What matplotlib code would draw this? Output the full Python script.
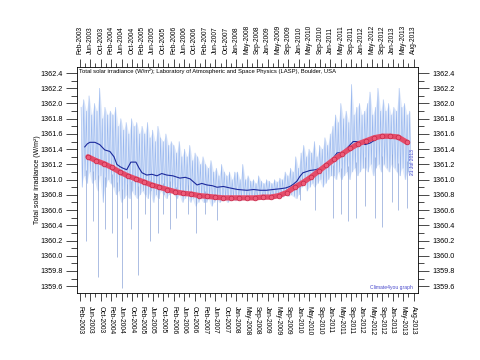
import numpy as np
import matplotlib
matplotlib.use('Agg')
import matplotlib.pyplot as plt
from matplotlib.ticker import MultipleLocator

plt.rcParams['font.family'] = ['Liberation Sans', 'DejaVu Sans']

# daily TSI band, read as monthly highs and lows (Feb 2003 .. Jun 2013)
tsi_high = [
    1361.95, 1362.05, 1361.90, 1362.10, 1361.85, 1362.00, 1361.90, 1362.20, 1361.80, 1361.95, 1361.85,  # 2003
    1361.90, 1361.85, 1361.95, 1361.70, 1361.80, 1361.65, 1361.75, 1361.60, 1361.80, 1361.70, 1361.75, 1361.60,
    1361.70, 1361.60, 1361.75, 1361.55, 1361.65, 1361.50, 1361.70, 1361.55, 1361.50, 1361.60, 1361.45, 1361.50,
    1361.45, 1361.35, 1361.50, 1361.30, 1361.40, 1361.30, 1361.45, 1361.25, 1361.35, 1361.30, 1361.20, 1361.30,
    1361.20, 1361.15, 1361.25, 1361.10, 1361.15, 1361.05, 1361.20, 1361.10, 1361.05, 1361.10, 1361.00, 1361.10,
    1361.10, 1361.00, 1361.20, 1361.00, 1361.05, 1360.98, 1361.00, 1360.95, 1361.05, 1360.98, 1360.95, 1361.00,
    1360.98, 1360.95, 1361.00, 1360.97, 1361.02, 1361.00, 1361.10, 1361.05, 1361.15, 1361.10, 1361.30, 1361.15,
    1361.35, 1361.45, 1361.30, 1361.40, 1361.35, 1361.50, 1361.30, 1361.45, 1361.40, 1361.55, 1361.45, 1361.60,
    1361.70, 1361.85, 1361.75, 1362.00, 1361.80, 1361.90, 1361.75, 1362.25, 1361.85, 1361.95, 1362.00, 1361.85,
    1361.90, 1362.00, 1362.15, 1361.85, 1361.95, 1362.20, 1361.90, 1362.05, 1361.90, 1362.00, 1361.85, 1361.95,
    1361.90, 1362.20, 1361.95, 1362.00, 1361.85, 1361.90,  # 2013
]
tsi_low = [
    1360.90, 1361.05, 1360.95, 1361.10, 1360.95, 1361.00, 1360.85, 1361.05, 1360.70, 1360.90, 1361.00,  # 2003
    1360.95, 1360.90, 1360.80, 1360.85, 1360.70, 1360.75, 1360.80, 1360.75, 1360.85, 1360.80, 1360.75, 1360.80,
    1360.85, 1360.80, 1360.75, 1360.85, 1360.70, 1360.80, 1360.75, 1360.85, 1360.80, 1360.75, 1360.80, 1360.85,
    1360.80, 1360.75, 1360.80, 1360.70, 1360.75, 1360.80, 1360.70, 1360.75, 1360.65, 1360.70, 1360.75, 1360.70,
    1360.70, 1360.75, 1360.65, 1360.70, 1360.75, 1360.70, 1360.72, 1360.75, 1360.70, 1360.72, 1360.75, 1360.72,
    1360.75, 1360.72, 1360.76, 1360.74, 1360.73, 1360.76, 1360.75, 1360.74, 1360.76, 1360.75, 1360.77, 1360.75,
    1360.77, 1360.76, 1360.78, 1360.77, 1360.78, 1360.77, 1360.80, 1360.78, 1360.80, 1360.78, 1360.75, 1360.80,
    1360.90, 1360.95, 1360.85, 1360.90, 1360.95, 1360.90, 1360.95, 1361.00, 1360.90, 1360.95, 1361.00, 1361.05,
    1361.05, 1361.00, 1361.10, 1361.00, 1361.05, 1361.10, 1361.00, 1361.10, 1361.15, 1361.05, 1361.10, 1361.15,
    1361.15, 1361.10, 1361.20, 1361.05, 1361.15, 1361.20, 1361.10, 1361.20, 1361.15, 1361.10, 1361.20, 1361.15,
    1361.10, 1361.05, 1361.15, 1361.00, 1361.10, 1361.05,  # 2013
]

# sunspot dips below the band
dip_year = [2003.27, 2003.49, 2003.65, 2003.87, 2004.09, 2004.25, 2004.41, 2004.56, 2004.69, 2004.91,
            2005.13, 2005.29, 2005.54, 2005.70, 2005.92, 2006.11, 2006.48, 2006.73, 2007.02, 2007.40,
            2010.01, 2010.48, 2011.05, 2011.30, 2011.52, 2011.77, 2012.05, 2012.37, 2012.59, 2012.90,
            2013.09, 2013.37]
dip_min = [1360.20, 1360.45, 1359.72, 1360.35, 1360.30, 1359.98, 1359.58, 1360.50, 1360.35, 1359.75,
           1360.55, 1360.20, 1360.30, 1360.55, 1360.35, 1360.50, 1360.55, 1360.30, 1360.55, 1360.47,
           1360.73, 1360.60, 1360.50, 1360.55, 1360.45, 1360.50, 1360.65, 1360.50, 1360.38, 1360.70,
           1360.60, 1360.63]

# running mean (dark blue)
mean_year = [2003.24, 2003.32, 2003.40, 2003.56, 2003.71, 2003.87, 2004.03, 2004.16, 2004.25, 2004.35,
             2004.44, 2004.56, 2004.69, 2004.85, 2004.95, 2005.04, 2005.19, 2005.35, 2005.51, 2005.66,
             2005.82, 2006.01, 2006.23, 2006.40, 2006.55, 2006.66, 2006.77, 2006.92, 2007.08, 2007.25,
             2007.40, 2007.60, 2007.81, 2008.05, 2008.34, 2008.55, 2008.75, 2008.95, 2009.16, 2009.38,
             2009.55, 2009.69, 2009.80, 2009.91, 2010.00, 2010.10, 2010.32, 2010.50, 2010.64, 2010.86,
             2011.00, 2011.17, 2011.36, 2011.50, 2011.68, 2011.90, 2012.05, 2012.21, 2012.40, 2012.55,
             2012.70, 2012.85, 2013.00, 2013.15, 2013.31]
mean_tsi = [1361.43, 1361.47, 1361.49, 1361.49, 1361.46, 1361.39, 1361.37, 1361.30, 1361.20, 1361.17,
            1361.15, 1361.13, 1361.23, 1361.23, 1361.15, 1361.09, 1361.06, 1361.07, 1361.05, 1361.08,
            1361.06, 1361.05, 1361.02, 1361.03, 1361.01, 1360.97, 1360.93, 1360.95, 1360.93, 1360.92,
            1360.90, 1360.91, 1360.89, 1360.87, 1360.86, 1360.87, 1360.86, 1360.86, 1360.87, 1360.88,
            1360.89, 1360.91, 1360.94, 1360.98, 1361.04, 1361.09, 1361.12, 1361.13, 1361.15, 1361.19,
            1361.25, 1361.35, 1361.36, 1361.42, 1361.50, 1361.50, 1361.46, 1361.48, 1361.53, 1361.55,
            1361.58, 1361.56, 1361.55, 1361.53, 1361.50]

# long smooth (red)
smooth_year = [2003.34, 2003.59, 2003.84, 2004.09, 2004.34, 2004.59, 2004.84, 2005.09, 2005.34, 2005.59,
               2005.84, 2006.09, 2006.34, 2006.59, 2006.84, 2007.09, 2007.34, 2007.59, 2007.84, 2008.09,
               2008.34, 2008.59, 2008.84, 2009.09, 2009.34, 2009.59, 2009.84, 2010.09, 2010.34, 2010.59,
               2010.84, 2011.09, 2011.34, 2011.59, 2011.84, 2012.09, 2012.34, 2012.59, 2012.84, 2013.09,
               2013.37]
smooth_tsi = [1361.30, 1361.25, 1361.21, 1361.16, 1361.10, 1361.05, 1361.01, 1360.97, 1360.93, 1360.90,
              1360.87, 1360.84, 1360.82, 1360.81, 1360.79, 1360.78, 1360.77, 1360.76, 1360.76, 1360.76,
              1360.76, 1360.76, 1360.77, 1360.77, 1360.79, 1360.83, 1360.90, 1360.96, 1361.03, 1361.11,
              1361.19, 1361.27, 1361.34, 1361.41, 1361.47, 1361.51, 1361.55, 1361.57, 1361.57, 1361.56,
              1361.49]

date_labels = ['Feb-2003', 'Jun-2003', 'Oct-2003', 'Feb-2004', 'Jun-2004', 'Oct-2004', 'Feb-2005',
               'Jun-2005', 'Oct-2005', 'Feb-2006', 'Jun-2006', 'Oct-2006', 'Feb-2007', 'Jun-2007',
               'Oct-2007', 'Jan-2008', 'May-2008', 'Sep-2008', 'Jan-2009', 'May-2009', 'Sep-2009',
               'Jan-2010', 'May-2010', 'Sep-2010', 'Jan-2011', 'May-2011', 'Sep-2011', 'Jan-2012',
               'May-2012', 'Sep-2012', 'Jan-2013', 'May-2013', 'Aug-2013']

# month centres, Feb 2003 onwards
t = 2003 + (np.arange(1, 1 + len(tsi_high)) + 0.5) / 12
band_x = np.ravel(np.column_stack([t, t + 1 / 24]))
band_y = np.ravel(np.column_stack([tsi_high, tsi_low]))

fig = plt.figure(figsize=(4.8, 3.6), dpi=100)
ax = fig.add_axes([0.160, 0.186, 0.711, 0.628])

ax.fill_between(t, tsi_low, tsi_high, color='#a9c4f2', alpha=0.35, lw=0)
ax.plot(band_x, band_y, color='#7aa2ea', lw=0.45, alpha=0.7)
dip_top = np.interp(dip_year, t, tsi_low) + 0.15
ax.vlines(dip_year, dip_min, dip_top, color='#8ea6d8', lw=0.6, alpha=0.85)
ax.plot(mean_year, mean_tsi, color='#1c2a9c', lw=0.8)
ax.plot(smooth_year, smooth_tsi, color='#e44c6a', lw=3.8, solid_capstyle='round',
        marker='o', ms=3.4, mfc='#ee5c7a', mec='#c42a4a', mew=0.5)

ax.set_xlim(2002.99, 2013.72)
ax.set_ylim(1359.51, 1362.48)

yt = np.arange(1359.6, 1362.41, 0.2)
ax.set_yticks(yt)
ax.set_yticklabels([f'{v:.1f}' for v in yt])
ax.yaxis.set_minor_locator(MultipleLocator(0.1))
ax.tick_params(axis='y', which='both', direction='out', left=True, right=True,
               labelleft=True, labelright=True, labelsize=5.2, width=0.5, pad=2)
ax.tick_params(axis='y', which='major', length=8)
ax.tick_params(axis='y', which='minor', length=4)

xt = np.linspace(2003.085, 2013.58, len(date_labels))
ax.set_xticks(xt)
ax.set_xticklabels(date_labels)
ax.set_xticks((xt[:-1] + xt[1:]) / 2, minor=True)
ax.tick_params(axis='x', which='both', direction='out', top=True, bottom=True,
               labeltop=True, labelbottom=True, labelsize=4.8, width=0.5)
ax.tick_params(axis='x', which='major', length=6, pad=3)
ax.tick_params(axis='x', which='minor', length=3)
for tk in ax.xaxis.get_major_ticks():
    tk.label1.set_rotation(270)
    tk.label2.set_rotation(90)

for s in ax.spines.values():
    s.set_linewidth(0.6)

ax.set_ylabel('Total solar irradiance (W/m²)', fontsize=5)
ax.yaxis.set_label_coords(-0.105, 0.5)
ax.text(0.006, 0.993, 'Total solar irradiance (W/m²); Laboratory of Atmospheric and Space Physics (LASP), Boulder, USA',
        transform=ax.transAxes, ha='left', va='top', fontsize=4.2)
ax.text(0.985, 0.015, 'Climate4you graph', transform=ax.transAxes, ha='right', va='bottom',
        fontsize=3.6, color='#4848cc')
ax.text(0.983, 0.58, '21 Jul 2013', transform=ax.transAxes, ha='center', va='center',
        rotation=90, fontsize=3.6, color='#4848cc')

fig.savefig('out.png', dpi=100)
